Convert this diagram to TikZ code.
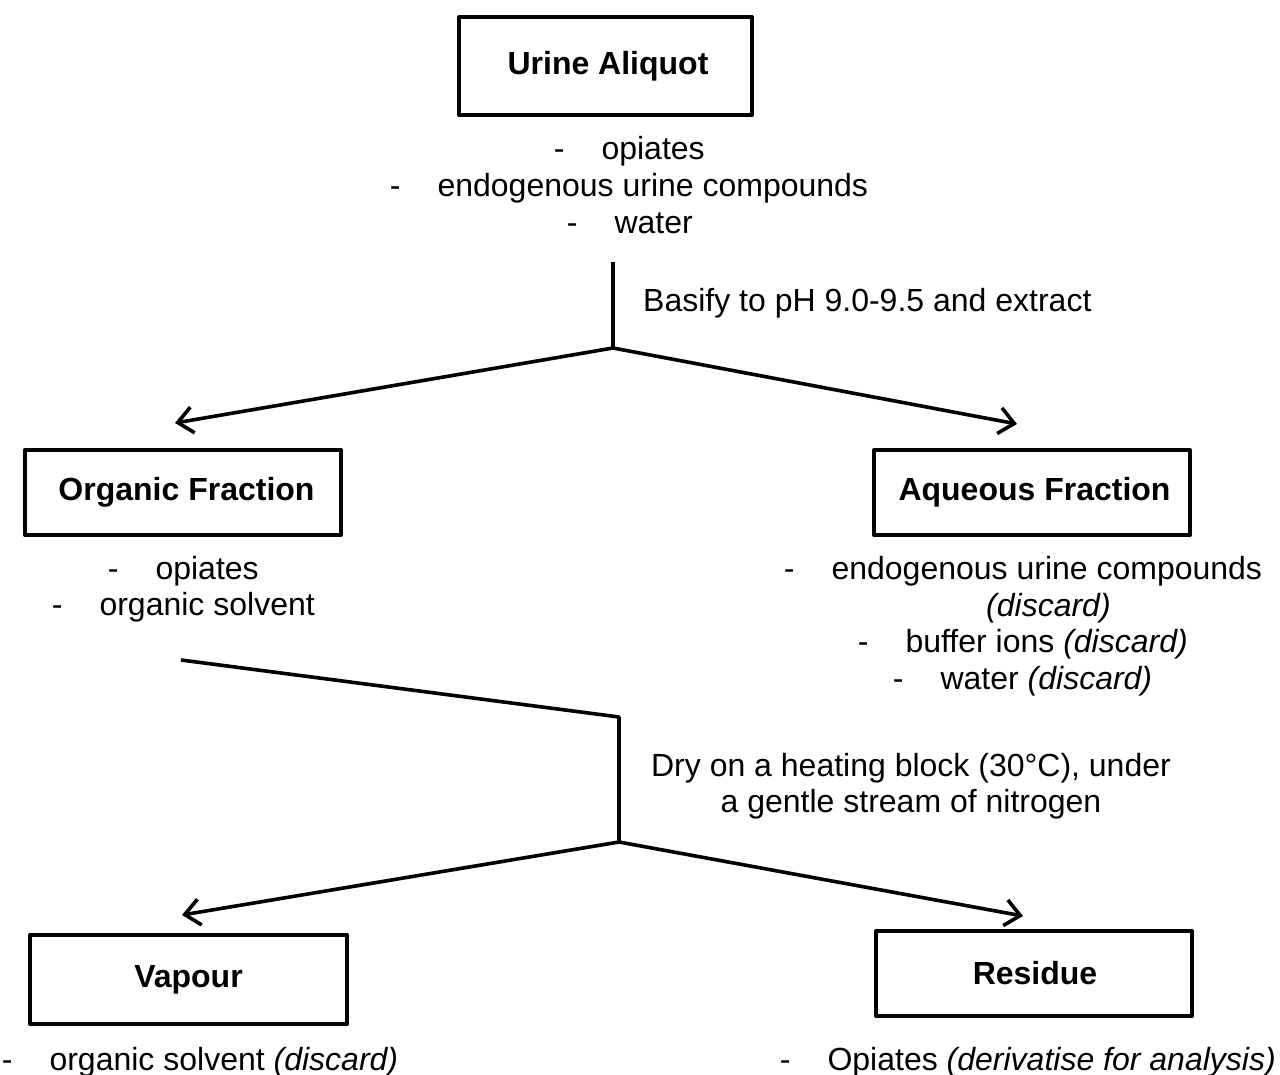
\documentclass[tikz,border=0pt]{standalone}
\usepackage{fontspec}
\setmainfont{Liberation Sans}
\usetikzlibrary{arrows.meta}
\newcommand{\itm}[1]{-\hspace{37pt}#1}
\tikzset{
  box/.style={draw, line width=4pt, line join=round, inner sep=0pt,
    font=\fontsize{32}{37}\selectfont\bfseries},
  txt/.style={inner sep=0pt, anchor=base west, font=\fontsize{32}{37}\selectfont},
  txtc/.style={inner sep=0pt, anchor=base, font=\fontsize{32}{37}\selectfont},
  conn/.style={line width=3.6pt, line join=round},
  arr/.style={conn, -{Straight Barb[length=15pt,width=26pt,line width=3.6pt]}}
}
\begin{document}
\begin{tikzpicture}[x=1pt,y=-1pt]
\useasboundingbox (0,0) rectangle (1280,1075);
% boxes
\node[box, minimum width=293pt, minimum height=98pt] (urine) at (605.5,66) {\hspace{5pt}Urine Aliquot};
\node[box, minimum width=316pt, minimum height=85pt] (org) at (183,492.5) {\hspace{7pt}Organic Fraction};
\node[box, minimum width=316pt, minimum height=85pt] (aq) at (1032,492.5) {\hspace{5pt}Aqueous Fraction};
\node[box, minimum width=317pt, minimum height=89pt] (vap) at (188.5,979.5) {\raisebox{6pt}{Vapour}};
\node[box, minimum width=316pt, minimum height=85pt] (res) at (1034,973.5) {\raisebox{1pt}{\hspace{2pt}Residue}};
% lists
\node[txt] (u1) at (553.7,160) {\itm{opiates}};
\node[txt] (u2) at (389.7,197) {\itm{endogenous urine compounds}};
\node[txt] (u3) at (566.7,234) {\itm{water}};
\node[txt] (o1) at (107.7,579) {\itm{opiates}};
\node[txt] (o2) at (51.7,615) {\itm{organic solvent}};
\node[txt] (a1) at (783.7,579) {\itm{endogenous urine compounds}};
\node[txt] (a2) at (986,616) {\textit{(discard)}};
\node[txt] (a3) at (857.7,652) {\itm{buffer ions \textit{(discard)}}};
\node[txt] (a4) at (892.7,689) {\itm{water \textit{(discard)}}};
\node[txt] (v1) at (1.7,1070) {\itm{organic solvent \textit{(discard)}}};
\node[txt] (r1) at (779.7,1070) {\itm{Opiates \textit{(derivatise for analysis)}}};
% step labels
\node[txt] (basify) at (643,312) {Basify to pH 9.0-9.5 and extract};
\node[txtc] (dry1) at (911,776) {Dry on a heating block (30°C), under};
\node[txtc] (dry2) at (911,812) {a gentle stream of nitrogen};
% connector points
\coordinate (s1) at (613,262);
\coordinate (j1) at (613,348);
\coordinate (t1l) at (175,423);
\coordinate (t1r) at (1017,424);
\coordinate (s2) at (181,660);
\coordinate (k2) at (619,717);
\coordinate (j2) at (619,842);
\coordinate (t2l) at (182,915);
\coordinate (t2r) at (1023,916);
\draw[conn] (s1) -- (j1);
\draw[arr] (j1) -- (t1l);
\draw[arr] (j1) -- (t1r);
\draw[conn] (s2) -- (k2) -- (j2);
\draw[arr] (j2) -- (t2l);
\draw[arr] (j2) -- (t2r);
\end{tikzpicture}
\end{document}
